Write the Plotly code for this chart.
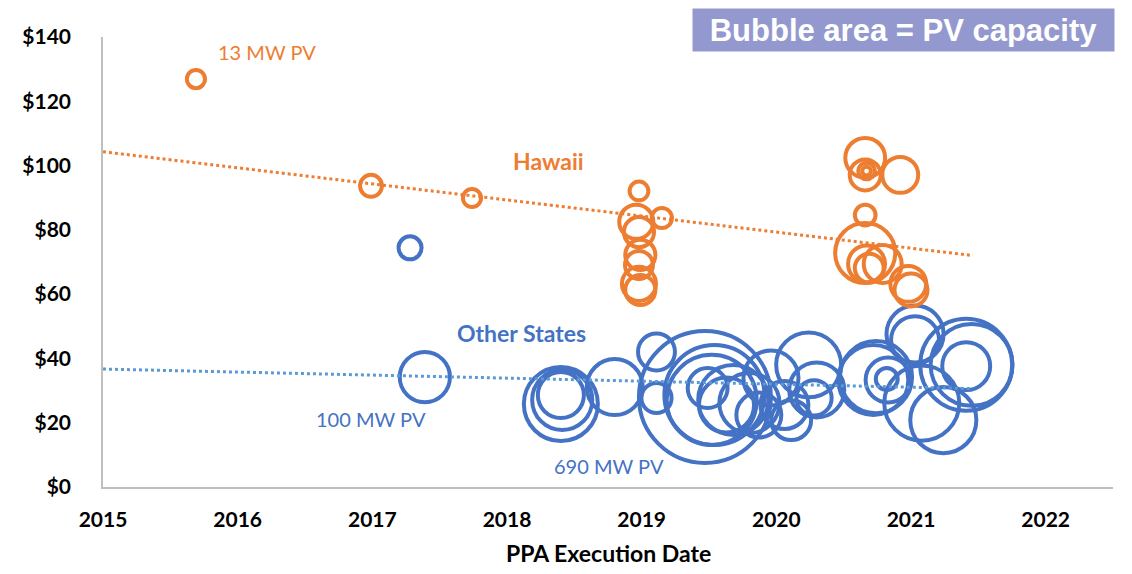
import plotly.graph_objects as go

# Hawaii PPAs: execution date (decimal year), price ($/MWh), PV capacity (MW)
hawaii_date = [2015.69, 2016.99, 2017.74, 2018.98, 2018.96, 2018.98, 2018.99, 2018.98,
               2018.98, 2018.99, 2019.15, 2020.66, 2020.66, 2020.67, 2020.67, 2020.92,
               2020.66, 2020.66, 2020.67, 2020.69, 2020.79, 2020.98, 2021.00]
hawaii_price = [126.9, 93.7, 89.9, 92.1, 82.5, 79.3, 72.2, 69.1,
                63.2, 61.3, 83.7, 102.4, 97.1, 98.3, 98.3, 97.1,
                84.6, 72.8, 69.4, 68.1, 69.4, 63.2, 61.3]
hawaii_mw = [13, 19, 13, 14, 46, 36, 36, 31,
             46, 36, 16, 63, 38, 11, 3, 51,
             17, 143, 54, 33, 57, 51, 43]

# Other states PPAs
other_date = [2017.28, 2017.39, 2018.40, 2018.41, 2018.40, 2018.80, 2019.11, 2019.11,
              2019.47, 2019.54, 2019.52, 2019.49, 2019.63, 2019.80, 2019.68, 2019.96,
              2020.24, 2020.30, 2020.28, 2020.11, 2020.06, 2019.87,
              2020.74, 2020.72, 2020.83, 2020.82, 2021.03, 2021.03, 2021.41, 2021.45,
              2021.41, 2021.08, 2021.24]
other_price = [74.4, 34.2, 25.8, 27.1, 28.6, 31.1, 42.0, 27.7,
               28.0, 28.6, 27.1, 30.8, 25.5, 26.1, 27.1, 33.9,
               38.0, 30.2, 27.7, 20.8, 25.5, 22.4,
               34.2, 33.3, 33.3, 33.6, 47.6, 45.7, 38.0, 38.0,
               37.6, 26.1, 20.8]
other_mw = [21, 100, 217, 143, 84, 124, 54, 36,
            690, 396, 321, 63, 120, 143, 194, 120,
            167, 120, 49, 63, 91, 80,
            206, 194, 80, 19, 129, 91, 335, 266,
            91, 223, 173]

# dotted trend lines (end points)
hawaii_trend_x = [2015.0, 2021.46]
hawaii_trend_y = [104.3, 72.0]
other_trend_x = [2015.0, 2021.46]
other_trend_y = [36.7, 30.6]

y_ticks = [0, 20, 40, 60, 80, 100, 120, 140]
x_ticks = [2015, 2016, 2017, 2018, 2019, 2020, 2021, 2022]

ORANGE = "#ED7D31"
BLUE = "#4472C4"
LIGHT_BLUE = "#5B9BD5"
FONT = "Lato"

max_mw = max(other_mw)
sizeref = 2.0 * max_mw / (132 ** 2)

fig = go.Figure()

fig.add_trace(go.Scatter(
    x=other_date, y=other_price, mode="markers",
    marker=dict(size=other_mw, sizemode="area", sizeref=sizeref, opacity=1,
                color="rgba(0,0,0,0)", line=dict(color=BLUE, width=4)),
    showlegend=False, hoverinfo="skip"
))
fig.add_trace(go.Scatter(
    x=hawaii_date, y=hawaii_price, mode="markers",
    marker=dict(size=hawaii_mw, sizemode="area", sizeref=sizeref, opacity=1,
                color="rgba(0,0,0,0)", line=dict(color=ORANGE, width=4)),
    showlegend=False, hoverinfo="skip"
))

# trend lines
fig.add_trace(go.Scatter(
    x=hawaii_trend_x, y=hawaii_trend_y, mode="lines",
    line=dict(color=ORANGE, width=3, dash="dot"), showlegend=False
))
fig.add_trace(go.Scatter(
    x=other_trend_x, y=other_trend_y, mode="lines",
    line=dict(color=LIGHT_BLUE, width=3, dash="dot"), showlegend=False
))

# labels
labels = [
    ("Hawaii", 2018.31, 101.4, ORANGE, "bold", 23),
    ("Other States", 2018.11, 47.9, BLUE, "bold", 23),
    ("13 MW PV", 2016.22, 135.3, ORANGE, "normal", 20),
    ("100 MW PV", 2016.99, 21.2, BLUE, "normal", 20),
    ("690 MW PV", 2018.76, 6.5, BLUE, "normal", 20),
]
for txt, lx, ly, col, w, fs in labels:
    fig.add_annotation(x=lx, y=ly, text=txt, showarrow=False,
                       font=dict(family=FONT, size=fs, color=col, weight=w))

fig.add_annotation(
    xref="paper", yref="paper", x=1.002, y=1.0644, xanchor="right", yanchor="top",
    text="Bubble area = PV capacity", showarrow=False,
    font=dict(family="Liberation Sans", size=31, color="white", weight="bold"),
    bgcolor="#9399CF", width=413, height=34, borderpad=4
)

# x axis title placed as annotation (standoff is ignored without automargin)
fig.add_annotation(
    xref="paper", yref="paper", x=0.5, y=-0.1467, xanchor="center", yanchor="middle",
    text="PPA Execution Date", showarrow=False,
    font=dict(family=FONT, size=23, color="black", weight="bold")
)

# the page body adds an 8px margin, so the figure is sized to fit inside it
fig.update_layout(
    width=1116, height=558,
    margin=dict(l=95, r=11, t=29, b=79),
    plot_bgcolor="white", paper_bgcolor="white",
    xaxis=dict(
        range=[2015, 2022.5], tickvals=x_ticks, ticktext=[str(v) for v in x_ticks],
        showgrid=False, zeroline=False, showline=True, linecolor="#BFBFBF", linewidth=1.5,
        ticks="", ticklabelstandoff=13, automargin=False,
        tickfont=dict(family=FONT, size=21, color="black", weight="bold"),
    ),
    yaxis=dict(
        range=[0, 140], tickvals=y_ticks, ticktext=["$" + str(v) for v in y_ticks],
        showgrid=False, zeroline=False, showline=True, linecolor="#BFBFBF", linewidth=1.5,
        ticks="", ticklabelstandoff=26, automargin=False,
        tickfont=dict(family=FONT, size=21, color="black", weight="bold"),
    ),
)

fig.write_html("out.html")
